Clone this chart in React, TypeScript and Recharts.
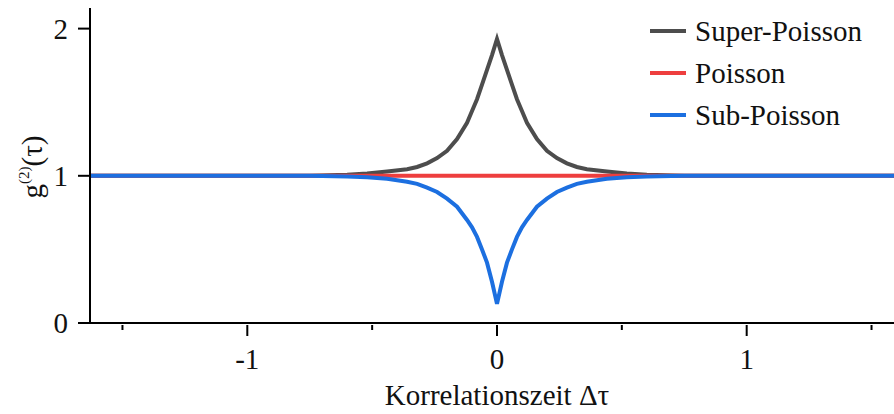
import React from "react";
import { LineChart, Line, XAxis, YAxis } from "recharts";

const FONT = "'Liberation Serif', 'Times New Roman', serif";

// Korrelationszeit (x) values
const tau = [
  -1.63, -0.75, -0.6, -0.52, -0.44, -0.36, -0.32, -0.28, -0.24, -0.2, -0.16, -0.12, -0.1, -0.08, -0.06, -0.04, -0.02,
  0,
  0.02, 0.04, 0.06, 0.08, 0.1, 0.12, 0.16, 0.2, 0.24, 0.28, 0.32, 0.36, 0.44, 0.52, 0.6, 0.75, 1.59,
];

// g2
const superPoisson = [
  1, 1, 1.007, 1.015, 1.03, 1.045, 1.06, 1.085, 1.12, 1.17, 1.25, 1.36, 1.44, 1.52, 1.62, 1.72, 1.82,
  1.93,
  1.82, 1.72, 1.62, 1.52, 1.44, 1.36, 1.25, 1.17, 1.12, 1.085, 1.06, 1.045, 1.03, 1.015, 1.007, 1, 1,
];
const poisson = tau.map(() => 1);
const subPoisson = [
  1, 1, 0.995, 0.99, 0.98, 0.96, 0.945, 0.92, 0.89, 0.845, 0.79, 0.7, 0.65, 0.585, 0.5, 0.41, 0.28,
  0.13,
  0.28, 0.41, 0.5, 0.585, 0.65, 0.7, 0.79, 0.845, 0.89, 0.92, 0.945, 0.96, 0.98, 0.99, 0.995, 1, 1,
];

const xTicks = [-1.5, -1, -0.5, 0, 0.5, 1, 1.5];
const yTicks = [0, 1, 2];

const series = [
  { key: "superPoisson", name: "Super-Poisson", color: "#4d4d4d" },
  { key: "poisson", name: "Poisson", color: "#ee3e3e" },
  { key: "subPoisson", name: "Sub-Poisson", color: "#1c6fe0" },
];

const data = tau.map((t, i) => ({
  t,
  superPoisson: superPoisson[i],
  poisson: poisson[i],
  subPoisson: subPoisson[i],
}));

function XTick(props: any) {
  const { x, y, payload } = props;
  const major = Number.isInteger(payload.value);
  return (
    <g>
      <line x1={x} x2={x} y1={y} y2={y + (major ? 11 : 5)} stroke="#000" strokeWidth={2} />
      {major && (
        <text x={x} y={y + 44} textAnchor="middle" fontFamily={FONT} fontSize={29} fill="#111">
          {payload.value}
        </text>
      )}
    </g>
  );
}

export default function App() {
  return (
    <div style={{ position: "absolute", left: 0, top: 0, width: 894, height: 414, background: "#fff" }}>
      <LineChart width={894} height={414} data={data} margin={{ top: 8, right: 0, bottom: 0, left: 0 }}>
        <XAxis
          dataKey="t"
          type="number"
          domain={[-1.63, 1.59]}
          ticks={xTicks}
          allowDataOverflow
          height={91}
          tickLine={false}
          tickSize={0}
          tick={<XTick />}
          axisLine={{ stroke: "#000", strokeWidth: 2 }}
          interval={0}
          label={{
            content: () => (
              <text x={497} y={405} textAnchor="middle" fontFamily={FONT} fontSize={29} fill="#111">
                Korrelationszeit Δτ
              </text>
            ),
          }}
        />
        <XAxis
          xAxisId="top"
          dataKey="t"
          type="number"
          orientation="top"
          domain={[-1.63, 1.59]}
          height={0}
          tick={false}
          tickLine={false}
          axisLine={{ stroke: "#000", strokeWidth: 2 }}
        />
        <YAxis
          type="number"
          domain={[0, 2.14]}
          ticks={yTicks}
          width={90}
          tickSize={12}
          tickMargin={10}
          tickLine={{ stroke: "#000", strokeWidth: 2 }}
          axisLine={{ stroke: "#000", strokeWidth: 2 }}
          tick={{ fontFamily: FONT, fontSize: 29, fill: "#111" }}
          label={{
            content: () => (
              <text
                x={42}
                y={167}
                transform="rotate(-90, 42, 167)"
                textAnchor="middle"
                fontFamily={FONT}
                fontSize={29}
                fill="#111"
              >
                g<tspan fontSize={15} dy={-13}>(2)</tspan>
                <tspan dy={13}>(τ)</tspan>
              </text>
            ),
          }}
        />
        {series.map((s) => (
          <Line
            key={s.key}
            dataKey={s.key}
            name={s.name}
            type="linear"
            stroke={s.color}
            strokeWidth={4}
            dot={false}
            isAnimationActive={false}
          />
        ))}
      </LineChart>
      <div style={{ position: "absolute", left: 650, top: 10, fontFamily: FONT, fontSize: 29, color: "#111" }}>
        {series.map((s) => (
          <div key={s.key} style={{ display: "flex", alignItems: "center", height: 42 }}>
            <span style={{ display: "inline-block", width: 36, height: 4, background: s.color, marginRight: 9 }} />
            <span>{s.name}</span>
          </div>
        ))}
      </div>
    </div>
  );
}
